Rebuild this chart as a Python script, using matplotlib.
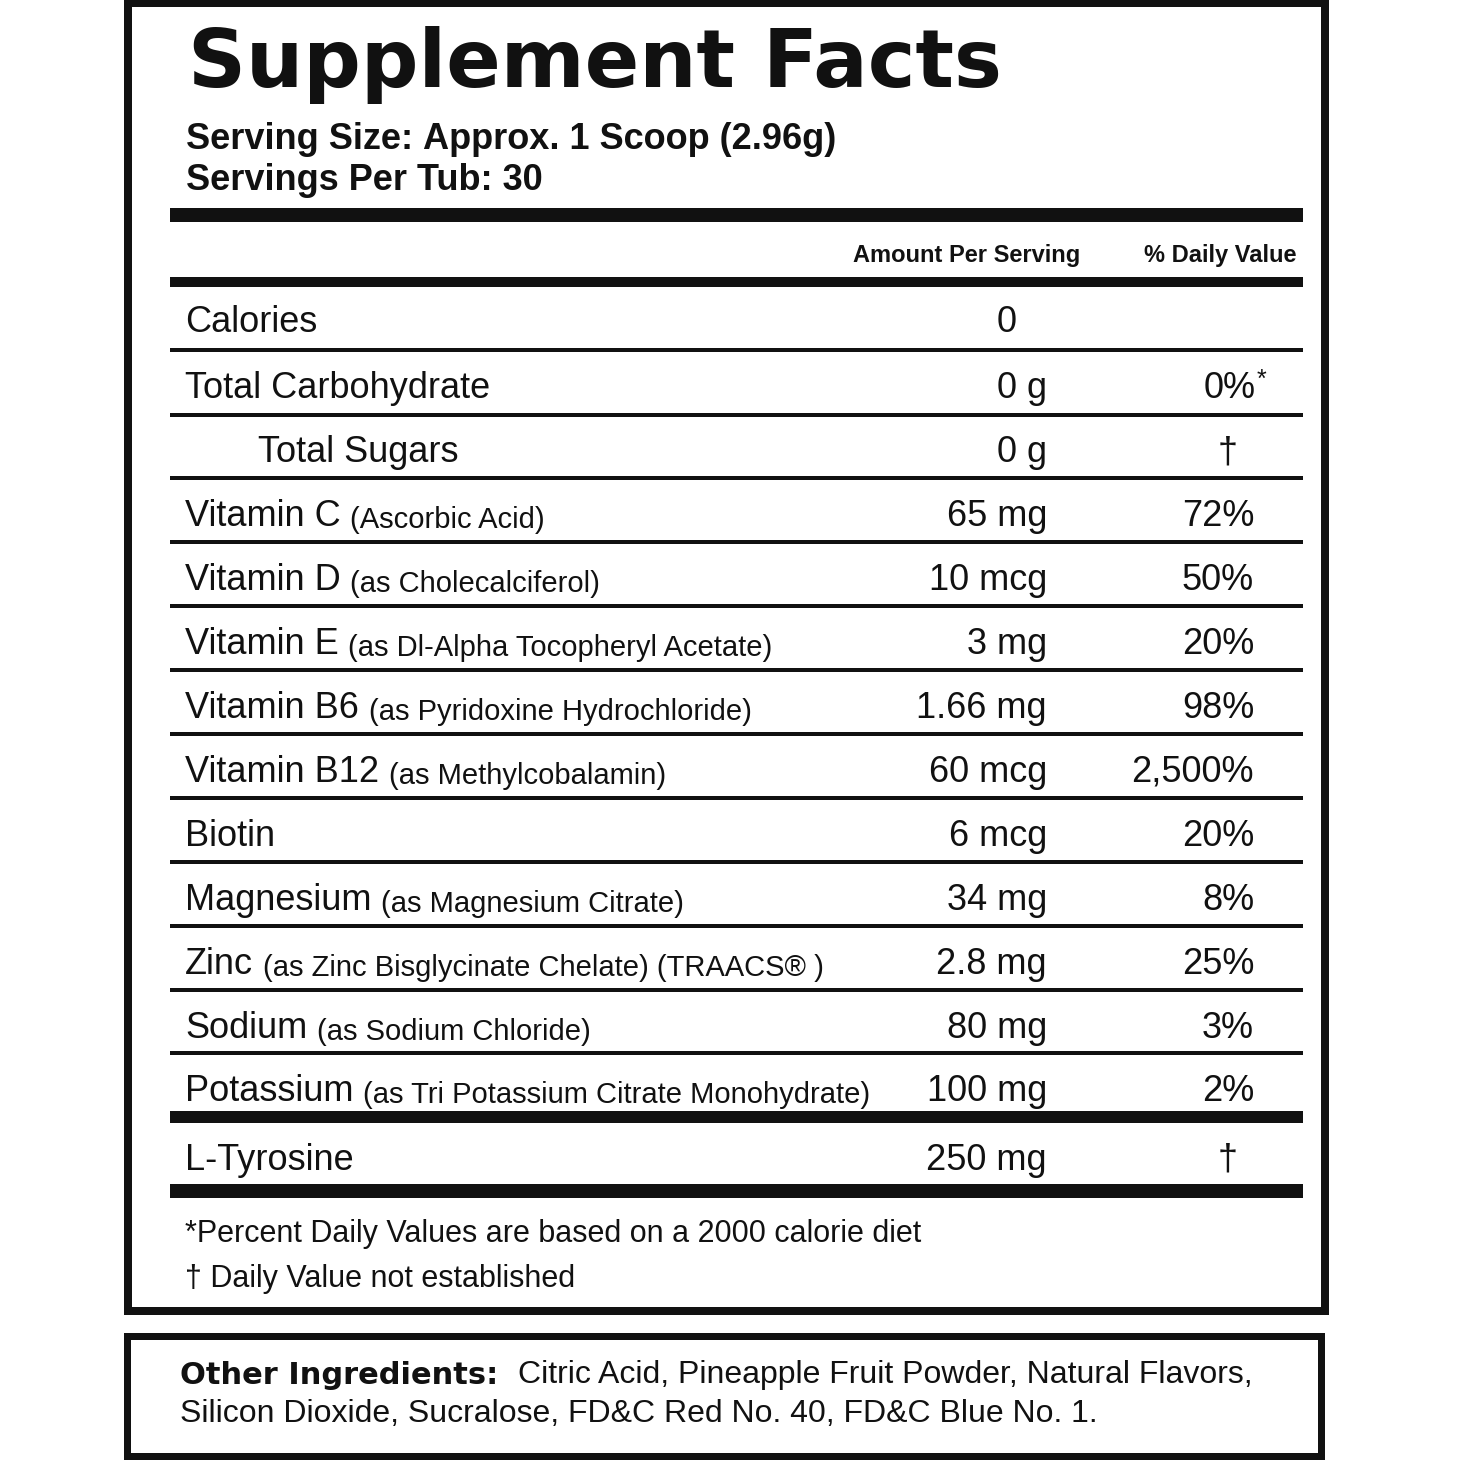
import matplotlib
matplotlib.use("Agg")
import matplotlib.pyplot as plt
from matplotlib.patches import Rectangle
from matplotlib import font_manager

# contenu de l'etiquette
title = "Supplement Facts"
serving_size = "Approx. 1 Scoop (2.96g)"
servings_per_tub = "30"

names = ["Calories", "Total Carbohydrate", "Total Sugars", "Vitamin C", "Vitamin D",
         "Vitamin E", "Vitamin B6", "Vitamin B12", "Biotin", "Magnesium", "Zinc",
         "Sodium", "Potassium", "L-Tyrosine"]
sources = ["", "", "", "(Ascorbic Acid)", "(as Cholecalciferol)",
           "(as Dl-Alpha Tocopheryl Acetate)", "(as Pyridoxine Hydrochloride)",
           "(as Methylcobalamin)", "", "(as Magnesium Citrate)",
           "(as Zinc Bisglycinate Chelate) (TRAACS\u00ae )", "(as Sodium Chloride)",
           "(as Tri Potassium Citrate Monohydrate)", ""]
amounts = ["0", "0 g", "0 g", "65 mg", "10 mcg", "3 mg", "1.66 mg", "60 mcg", "6 mcg",
           "34 mg", "2.8 mg", "80 mg", "100 mg", "250 mg"]
daily_values = ["", "0%*", "\u2020", "72%", "50%", "20%", "98%", "2,500%", "20%", "8%",
                "25%", "3%", "2%", "\u2020"]
indented = ["Total Sugars"]

footnotes = ["*Percent Daily Values are based on a 2000 calorie diet",
             "\u2020 Daily Value not established"]
other_label = "Other Ingredients:"
other_lines = ["Citric Acid, Pineapple Fruit Powder, Natural Flavors,",
               "Silicon Dioxide, Sucralose, FD&C Red No. 40, FD&C Blue No. 1."]

# mise en page (pixels)
rule_y = [215, 282, 350, 415, 478, 542, 606, 670, 734, 798, 862, 926, 990, 1053, 1117, 1191]
rule_w = [14, 10, 4, 4, 4, 4, 4, 4, 4, 4, 4, 4, 4, 4, 12, 14]

installed = {f.name for f in font_manager.fontManager.ttflist}
body = "Liberation Sans"
narrow = "Liberation Sans Narrow" if "Liberation Sans Narrow" in installed else body
ink = "#111111"
PX = 0.72  # points par pixel a 100 dpi

fig = plt.figure(figsize=(14.6, 14.6), dpi=100)
ax = fig.add_axes([0, 0, 1, 1])
ax.set_xlim(0, 1460)
ax.set_ylim(1460, 0)
ax.axis("off")

# cadres
ax.add_patch(Rectangle((128, 3), 1197, 1308, fill=False, lw=8 * PX, ec=ink))
ax.add_patch(Rectangle((127, 1336), 1194, 120, fill=False, lw=7 * PX, ec=ink))

# traits horizontaux
for y, w in zip(rule_y, rule_w):
    ax.hlines(y, 170, 1303, colors=ink, lw=w * PX, capstyle="butt")

# en-tete
ax.text(188, 87, title, fontsize=58, fontweight="bold", family="DejaVu Sans",
        color=ink, va="baseline")
t1 = ax.text(186, 149, "Serving Size:", fontsize=26, fontweight="bold", family=body,
             color=ink, va="baseline")
ax.annotate(serving_size, xy=(1, 0), xycoords=t1, xytext=(7, 0), textcoords="offset points",
            fontsize=26, fontweight="bold", family=body, color=ink, va="bottom")
ax.text(186, 190, "Servings Per Tub: " + servings_per_tub, fontsize=26, fontweight="bold",
        family=body, color=ink, va="baseline")

hsize = 21 if narrow != body else 17
ax.text(1080, 262, "Amount Per Serving", fontsize=hsize, fontweight="bold", family=narrow,
        color=ink, ha="right", va="baseline")
ax.text(1297, 262, "% Daily Value", fontsize=hsize, fontweight="bold", family=narrow,
        color=ink, ha="right", va="baseline")

# lignes du tableau
for i, name in enumerate(names):
    base = (rule_y[i + 1] + rule_y[i + 2]) / 2 + 16
    x0 = 258 if name in indented else 185
    t = ax.text(x0, base, name, fontsize=26, family=body, color=ink, va="baseline")
    if sources[i]:
        ax.annotate(sources[i], xy=(1, 0), xycoords=t, xytext=(7, 0),
                    textcoords="offset points", fontsize=21, family=body, color=ink,
                    va="bottom")
    if amounts[i].strip().isdigit():
        ax.text(1007, base, amounts[i], fontsize=26, family=body, color=ink,
                ha="center", va="baseline")
    else:
        ax.text(1047, base, amounts[i], fontsize=26, family=body, color=ink,
                ha="right", va="baseline")
    dv = daily_values[i]
    if dv == "\u2020":
        ax.text(1228, base, dv, fontsize=26, family=body, color=ink, ha="center",
                va="baseline")
    elif dv.endswith("*"):
        ax.text(1256, base, dv[:-1], fontsize=26, family=body, color=ink, ha="right",
                va="baseline")
        ax.text(1257, base - 12, "*", fontsize=18, family=body, color=ink, ha="left",
                va="baseline")
    elif dv:
        ax.text(1254, base, dv, fontsize=26, family=body, color=ink, ha="right",
                va="baseline")

# notes
for k, note in enumerate(footnotes):
    ax.text(185, 1242 + 45 * k, note, fontsize=22, family=body, color=ink, va="baseline")

# autres ingredients
o = ax.text(180, 1384, other_label, fontsize=22, fontweight="bold", family="DejaVu Sans",
            color=ink, va="baseline")
ax.annotate(other_lines[0], xy=(1, 0), xycoords=o, xytext=(14, 0), textcoords="offset points",
            fontsize=23, family=body, color=ink, va="bottom")
ax.text(180, 1422, other_lines[1], fontsize=23, family=body, color=ink, va="baseline")

fig.savefig("out.png", dpi=100, facecolor="white")
